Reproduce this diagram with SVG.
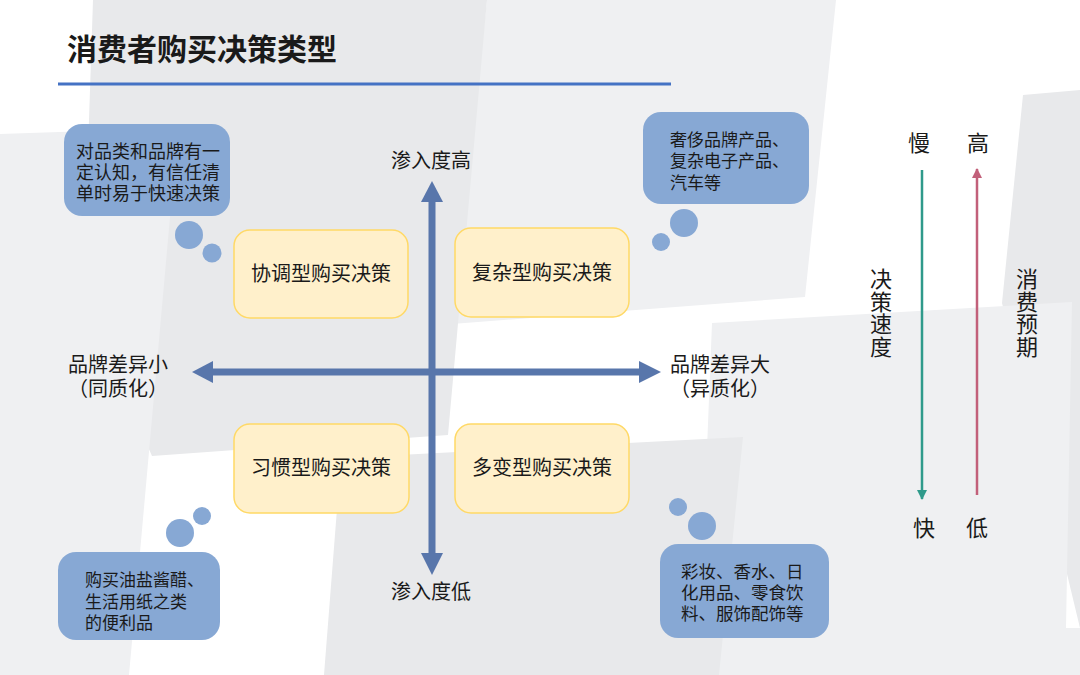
<svg xmlns="http://www.w3.org/2000/svg" width="1080" height="675" viewBox="0 0 1080 675">
<defs>
<style>
text{font-family:"Noto Sans CJK SC","Noto Sans",sans-serif;fill:#1a1a1a}
.title{font-size:30px;font-weight:bold}
.ax{font-size:20px}
.bt{font-size:17.5px}
.yb{fill:#fff0cb;stroke:#ffd966;stroke-width:1.5}
.bb{fill:#87a8d4}
.dk{fill:#e8e9eb}
.lt{fill:#eff0f2}
.rs{font-size:22px}
.vt{font-size:22px;writing-mode:vertical-rl;letter-spacing:0.5px}
</style>
<marker id="mg" viewBox="0 0 10 10" refX="9" refY="5" markerWidth="4" markerHeight="4.5" orient="auto"><path d="M0,0L10,5L0,10z" fill="#2f9a8b"/></marker>
<marker id="mr" viewBox="0 0 10 10" refX="9" refY="5" markerWidth="4" markerHeight="4.5" orient="auto"><path d="M0,0L10,5L0,10z" fill="#c2607a"/></marker>
</defs>
<rect width="1080" height="675" fill="#ffffff"/>
<g id="background">
<polygon class="lt" points="487,0 836,0 805,297 452,324"/>
<polygon class="dk" points="93,0 487,0 448,435 152,456 83,300"/>
<polygon class="lt" points="0,134 178,128 129,675 0,675"/>
<polygon class="dk" points="1023,95 1080,90 1080,628 1002,303"/>
<polygon class="lt" points="712,323 1072,302 1066,628 1080,628 1080,675 698,675"/>
<polygon class="dk" points="341,458 743,437 719,675 324,675"/>
</g>
<g id="title">
<text class="title" x="67" y="60">消费者购买决策类型</text>
<rect x="58" y="82.5" width="613" height="3" fill="#4472c4"/>
</g>
<g id="connectors">
<rect x="213" y="368.5" width="426" height="7" fill="#5876ab"/>
<polygon points="192,372 213,361 213,383" fill="#5876ab"/>
<polygon points="661,372 639,361 639,383" fill="#5876ab"/>
<rect x="428.5" y="202" width="7" height="352" fill="#5876ab"/>
<polygon points="432,181 421,202 443,202" fill="#5876ab"/>
<polygon points="432,575 421,553 443,553" fill="#5876ab"/>
<line x1="922" y1="170" x2="922" y2="499" stroke="#2f9a8b" stroke-width="2.5" marker-end="url(#mg)"/>
<line x1="977" y1="495" x2="977" y2="169" stroke="#c2607a" stroke-width="2.5" marker-end="url(#mr)"/>
</g>
<g id="axis-labels">
<text class="ax" x="431" y="168" text-anchor="middle">渗入度高</text>
<text class="ax" x="431" y="599" text-anchor="middle">渗入度低</text>
<text class="ax" x="118" y="372" text-anchor="middle">品牌差异小</text>
<text class="ax" x="118" y="396" text-anchor="middle">（同质化）</text>
<text class="ax" x="720" y="372" text-anchor="middle">品牌差异大</text>
<text class="ax" x="720" y="396" text-anchor="middle">（异质化）</text>
</g>
<g id="node-xietiao">
<rect class="yb" x="234" y="230" width="174" height="88" rx="16"/>
<text class="ax" x="321" y="281" text-anchor="middle">协调型购买决策</text>
</g>
<g id="node-fuza">
<rect class="yb" x="455" y="228" width="174" height="89" rx="16"/>
<text class="ax" x="542" y="279.5" text-anchor="middle">复杂型购买决策</text>
</g>
<g id="node-xiguan">
<rect class="yb" x="234" y="424" width="175" height="89" rx="16"/>
<text class="ax" x="321" y="475" text-anchor="middle">习惯型购买决策</text>
</g>
<g id="node-duobian">
<rect class="yb" x="455" y="424" width="174" height="89" rx="16"/>
<text class="ax" x="542" y="475" text-anchor="middle">多变型购买决策</text>
</g>
<g id="bubble-tl">
<rect class="bb" x="64" y="124" width="166" height="92" rx="18"/>
<circle class="bb" cx="189" cy="235" r="14"/>
<circle class="bb" cx="212" cy="253" r="9.5"/>
<text class="bt" style="font-size:18px"><tspan x="76" y="158">对品类和品牌有一</tspan><tspan x="76" y="179">定认知，有信任清</tspan><tspan x="76" y="200">单时易于快速决策</tspan></text>
</g>
<g id="bubble-tr">
<rect class="bb" x="643" y="112" width="166" height="92" rx="18"/>
<circle class="bb" cx="684" cy="223" r="14"/>
<circle class="bb" cx="661" cy="242" r="9"/>
<text class="bt" style="font-size:17px"><tspan x="670" y="146">奢侈品牌产品、</tspan><tspan x="670" y="167">复杂电子产品、</tspan><tspan x="670" y="189">汽车等</tspan></text>
</g>
<g id="bubble-bl">
<rect class="bb" x="58" y="552" width="162" height="88" rx="18"/>
<circle class="bb" cx="180" cy="533" r="14"/>
<circle class="bb" cx="202" cy="516" r="9"/>
<text class="bt" style="font-size:17px"><tspan x="85" y="586">购买油盐酱醋、</tspan><tspan x="85" y="608">生活用纸之类</tspan><tspan x="85" y="629">的便利品</tspan></text>
</g>
<g id="bubble-br">
<rect class="bb" x="660" y="544" width="169" height="94" rx="18"/>
<circle class="bb" cx="678" cy="507" r="9"/>
<circle class="bb" cx="702" cy="526" r="14"/>
<text class="bt"><tspan x="681" y="578">彩妆、香水、日</tspan><tspan x="681" y="599">化用品、零食饮</tspan><tspan x="681" y="620">料、服饰配饰等</tspan></text>
</g>
<g id="right-scale">
<text class="rs" x="919" y="151" text-anchor="middle">慢</text>
<text class="rs" x="978" y="151" text-anchor="middle">高</text>
<text class="rs" x="924" y="536" text-anchor="middle">快</text>
<text class="rs" x="977" y="536" text-anchor="middle">低</text>
<text class="vt" x="881" y="268">决策速度</text>
<text class="vt" x="1027" y="268">消费预期</text>
</g>
</svg>
